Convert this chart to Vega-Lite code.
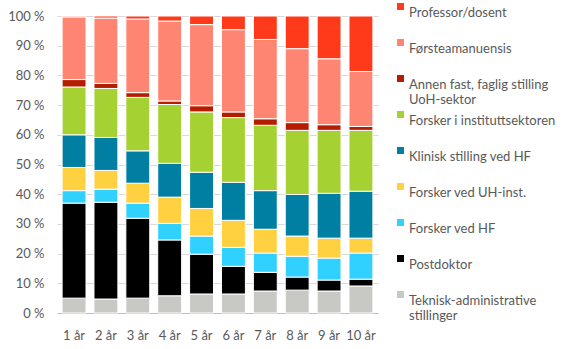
{
  "$schema": "https://vega.github.io/schema/vega-lite/v6.json",
  "width": 321,
  "height": 297,
  "autosize": {"type": "none"},
  "padding": {"left": 57, "top": 16, "right": 199, "bottom": 36},
  "background": "white",
  "config": {
    "font": "Lato",
    "view": {"stroke": null},
    "axis": {"labelFont": "Lato", "labelFontSize": 13, "labelColor": "#595959"},
    "legend": {"labelFont": "Lato", "labelFontSize": 13, "labelColor": "#595959"}
  },
  "data": {
    "values": [
      {"aar": "1 år", "stilling": "Teknisk-administrative stillinger", "andel": 5.0},
      {"aar": "1 år", "stilling": "Postdoktor", "andel": 32.0},
      {"aar": "1 år", "stilling": "Forsker ved HF", "andel": 4.2},
      {"aar": "1 år", "stilling": "Forsker ved UH-inst.", "andel": 7.8},
      {"aar": "1 år", "stilling": "Klinisk stilling ved HF", "andel": 11.0},
      {"aar": "1 år", "stilling": "Forsker i instituttsektoren", "andel": 16.1},
      {"aar": "1 år", "stilling": "Annen fast, faglig stilling UoH-sektor", "andel": 2.5},
      {"aar": "1 år", "stilling": "Førsteamanuensis", "andel": 21.1},
      {"aar": "1 år", "stilling": "Professor/dosent", "andel": 0.3},
      {"aar": "2 år", "stilling": "Teknisk-administrative stillinger", "andel": 4.7},
      {"aar": "2 år", "stilling": "Postdoktor", "andel": 32.6},
      {"aar": "2 år", "stilling": "Forsker ved HF", "andel": 4.4},
      {"aar": "2 år", "stilling": "Forsker ved UH-inst.", "andel": 6.3},
      {"aar": "2 år", "stilling": "Klinisk stilling ved HF", "andel": 11.1},
      {"aar": "2 år", "stilling": "Forsker i instituttsektoren", "andel": 16.5},
      {"aar": "2 år", "stilling": "Annen fast, faglig stilling UoH-sektor", "andel": 1.7},
      {"aar": "2 år", "stilling": "Førsteamanuensis", "andel": 22.0},
      {"aar": "2 år", "stilling": "Professor/dosent", "andel": 0.7},
      {"aar": "3 år", "stilling": "Teknisk-administrative stillinger", "andel": 5.0},
      {"aar": "3 år", "stilling": "Postdoktor", "andel": 26.9},
      {"aar": "3 år", "stilling": "Forsker ved HF", "andel": 5.1},
      {"aar": "3 år", "stilling": "Forsker ved UH-inst.", "andel": 6.7},
      {"aar": "3 år", "stilling": "Klinisk stilling ved HF", "andel": 10.9},
      {"aar": "3 år", "stilling": "Forsker i instituttsektoren", "andel": 18.0},
      {"aar": "3 år", "stilling": "Annen fast, faglig stilling UoH-sektor", "andel": 1.6},
      {"aar": "3 år", "stilling": "Førsteamanuensis", "andel": 24.8},
      {"aar": "3 år", "stilling": "Professor/dosent", "andel": 1.0},
      {"aar": "4 år", "stilling": "Teknisk-administrative stillinger", "andel": 5.8},
      {"aar": "4 år", "stilling": "Postdoktor", "andel": 18.8},
      {"aar": "4 år", "stilling": "Forsker ved HF", "andel": 5.6},
      {"aar": "4 år", "stilling": "Forsker ved UH-inst.", "andel": 8.8},
      {"aar": "4 år", "stilling": "Klinisk stilling ved HF", "andel": 11.4},
      {"aar": "4 år", "stilling": "Forsker i instituttsektoren", "andel": 19.8},
      {"aar": "4 år", "stilling": "Annen fast, faglig stilling UoH-sektor", "andel": 1.2},
      {"aar": "4 år", "stilling": "Førsteamanuensis", "andel": 26.9},
      {"aar": "4 år", "stilling": "Professor/dosent", "andel": 1.7},
      {"aar": "5 år", "stilling": "Teknisk-administrative stillinger", "andel": 6.4},
      {"aar": "5 år", "stilling": "Postdoktor", "andel": 13.4},
      {"aar": "5 år", "stilling": "Forsker ved HF", "andel": 6.1},
      {"aar": "5 år", "stilling": "Forsker ved UH-inst.", "andel": 9.3},
      {"aar": "5 år", "stilling": "Klinisk stilling ved HF", "andel": 12.2},
      {"aar": "5 år", "stilling": "Forsker i instituttsektoren", "andel": 20.3},
      {"aar": "5 år", "stilling": "Annen fast, faglig stilling UoH-sektor", "andel": 2.1},
      {"aar": "5 år", "stilling": "Førsteamanuensis", "andel": 27.3},
      {"aar": "5 år", "stilling": "Professor/dosent", "andel": 2.9},
      {"aar": "6 år", "stilling": "Teknisk-administrative stillinger", "andel": 6.4},
      {"aar": "6 år", "stilling": "Postdoktor", "andel": 9.3},
      {"aar": "6 år", "stilling": "Forsker ved HF", "andel": 6.4},
      {"aar": "6 år", "stilling": "Forsker ved UH-inst.", "andel": 9.1},
      {"aar": "6 år", "stilling": "Klinisk stilling ved HF", "andel": 12.8},
      {"aar": "6 år", "stilling": "Forsker i instituttsektoren", "andel": 21.8},
      {"aar": "6 år", "stilling": "Annen fast, faglig stilling UoH-sektor", "andel": 1.9},
      {"aar": "6 år", "stilling": "Førsteamanuensis", "andel": 27.7},
      {"aar": "6 år", "stilling": "Professor/dosent", "andel": 4.6},
      {"aar": "7 år", "stilling": "Teknisk-administrative stillinger", "andel": 7.4},
      {"aar": "7 år", "stilling": "Postdoktor", "andel": 6.3},
      {"aar": "7 år", "stilling": "Forsker ved HF", "andel": 6.5},
      {"aar": "7 år", "stilling": "Forsker ved UH-inst.", "andel": 8.0},
      {"aar": "7 år", "stilling": "Klinisk stilling ved HF", "andel": 13.0},
      {"aar": "7 år", "stilling": "Forsker i instituttsektoren", "andel": 22.0},
      {"aar": "7 år", "stilling": "Annen fast, faglig stilling UoH-sektor", "andel": 2.2},
      {"aar": "7 år", "stilling": "Førsteamanuensis", "andel": 26.7},
      {"aar": "7 år", "stilling": "Professor/dosent", "andel": 7.9},
      {"aar": "8 år", "stilling": "Teknisk-administrative stillinger", "andel": 7.7},
      {"aar": "8 år", "stilling": "Postdoktor", "andel": 4.4},
      {"aar": "8 år", "stilling": "Forsker ved HF", "andel": 7.0},
      {"aar": "8 år", "stilling": "Forsker ved UH-inst.", "andel": 6.8},
      {"aar": "8 år", "stilling": "Klinisk stilling ved HF", "andel": 14.0},
      {"aar": "8 år", "stilling": "Forsker i instituttsektoren", "andel": 21.6},
      {"aar": "8 år", "stilling": "Annen fast, faglig stilling UoH-sektor", "andel": 2.6},
      {"aar": "8 år", "stilling": "Førsteamanuensis", "andel": 24.9},
      {"aar": "8 år", "stilling": "Professor/dosent", "andel": 11.0},
      {"aar": "9 år", "stilling": "Teknisk-administrative stillinger", "andel": 7.4},
      {"aar": "9 år", "stilling": "Postdoktor", "andel": 3.7},
      {"aar": "9 år", "stilling": "Forsker ved HF", "andel": 7.4},
      {"aar": "9 år", "stilling": "Forsker ved UH-inst.", "andel": 6.7},
      {"aar": "9 år", "stilling": "Klinisk stilling ved HF", "andel": 15.1},
      {"aar": "9 år", "stilling": "Forsker i instituttsektoren", "andel": 21.2},
      {"aar": "9 år", "stilling": "Annen fast, faglig stilling UoH-sektor", "andel": 1.9},
      {"aar": "9 år", "stilling": "Førsteamanuensis", "andel": 22.2},
      {"aar": "9 år", "stilling": "Professor/dosent", "andel": 14.4},
      {"aar": "10 år", "stilling": "Teknisk-administrative stillinger", "andel": 9.1},
      {"aar": "10 år", "stilling": "Postdoktor", "andel": 2.3},
      {"aar": "10 år", "stilling": "Forsker ved HF", "andel": 8.8},
      {"aar": "10 år", "stilling": "Forsker ved UH-inst.", "andel": 5.0},
      {"aar": "10 år", "stilling": "Klinisk stilling ved HF", "andel": 15.8},
      {"aar": "10 år", "stilling": "Forsker i instituttsektoren", "andel": 20.5},
      {"aar": "10 år", "stilling": "Annen fast, faglig stilling UoH-sektor", "andel": 1.3},
      {"aar": "10 år", "stilling": "Førsteamanuensis", "andel": 18.5},
      {"aar": "10 år", "stilling": "Professor/dosent", "andel": 18.7}
    ]
  },
  "transform": [
    {"calculate": "indexof(['Teknisk-administrative stillinger', 'Postdoktor', 'Forsker ved HF', 'Forsker ved UH-inst.', 'Klinisk stilling ved HF', 'Forsker i instituttsektoren', 'Annen fast, faglig stilling UoH-sektor', 'Førsteamanuensis', 'Professor/dosent'], datum.stilling)", "as": "rekke"}
  ],
  "mark": {"type": "bar", "stroke": "white", "strokeWidth": 1},
  "encoding": {
    "x": {
      "field": "aar", "type": "nominal", "sort": null,
      "scale": {"paddingInner": 0.25, "paddingOuter": 0.16},
      "axis": {"title": null, "labelAngle": 0, "ticks": false, "domainColor": "#BFBFBF", "labelPadding": 16, "grid": false}
    },
    "y": {
      "field": "andel", "type": "quantitative", "stack": true,
      "scale": {"domain": [0, 100], "nice": false},
      "axis": {"title": null, "values": [0, 10, 20, 30, 40, 50, 60, 70, 80, 90, 100], "labelExpr": "datum.value + ' %'", "domain": false, "ticks": false, "labelPadding": 13, "gridColor": "#D9D9D9"}
    },
    "order": {"field": "rekke", "type": "quantitative", "sort": "ascending"},
    "color": {
      "field": "stilling", "type": "nominal",
      "scale": {
        "domain": ["Professor/dosent", "Førsteamanuensis", "Annen fast, faglig stilling UoH-sektor", "Forsker i instituttsektoren", "Klinisk stilling ved HF", "Forsker ved UH-inst.", "Forsker ved HF", "Postdoktor", "Teknisk-administrative stillinger"],
        "range": ["#FF3A1A", "#FF8573", "#B51C00", "#A6D132", "#007FA3", "#FFD040", "#30D0FF", "#000000", "#C8C8C5"]
      },
      "legend": {
        "title": null,
        "orient": "none",
        "legendX": 337,
        "legendY": -16,
        "padding": 0,
        "symbolType": "square",
        "symbolSize": 49,
        "symbolStrokeWidth": 0,
        "labelOffset": 2,
        "labelLimit": 300,
        "labelBaseline": "top",
        "rowPadding": 1,
        "labelExpr": "datum.label == 'Annen fast, faglig stilling UoH-sektor' ? ['Annen fast, faglig stilling', 'UoH-sektor'] : datum.label == 'Teknisk-administrative stillinger' ? ['Teknisk-administrative', 'stillinger'] : [datum.label, '']",
        "encode": {
          "labels": {"update": {"dy": {"value": -13}, "lineHeight": {"value": 18}}}
        }
      }
    }
  }
}
